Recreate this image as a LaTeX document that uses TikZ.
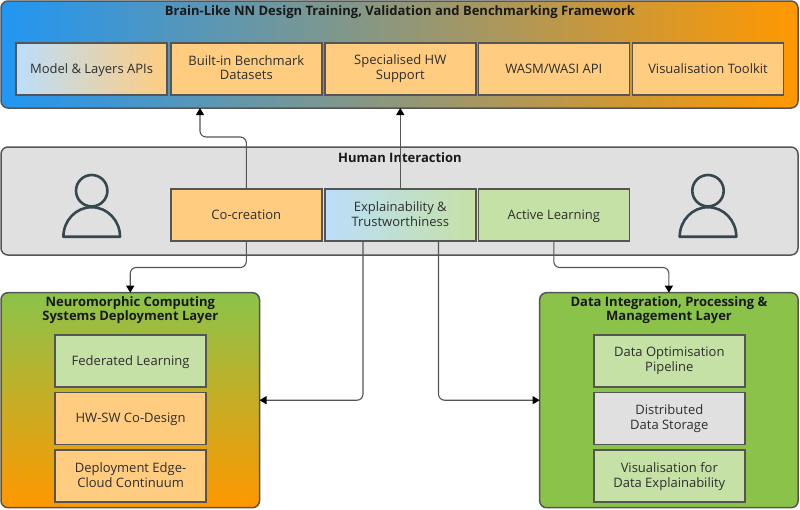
\documentclass[tikz,border=0pt]{standalone}
\usepackage{fontspec}
\setmainfont{Open Sans}
\usetikzlibrary{arrows.meta}
\definecolor{edgegray}{HTML}{555555}
\definecolor{blueS}{HTML}{2196F3}
\definecolor{orangeS}{HTML}{FF9800}
\definecolor{greenS}{HTML}{8BC34A}
\definecolor{grayS}{HTML}{E0E0E0}
\definecolor{lblue}{HTML}{BBDEFB}
\definecolor{lorange}{HTML}{FFCC80}
\definecolor{lgreen}{HTML}{C5E1A5}
\definecolor{ink}{HTML}{37474F}
\definecolor{txt}{HTML}{2E2E2E}
\tikzset{
  x=1pt,y=-1pt,
  layerbox/.style={draw=edgegray,line width=1.5pt,rounded corners=7pt,inner sep=0pt,outer sep=0pt},
  balanced/.style={execute at begin node={\rule{0pt}{#1}},execute at end node={\rule[-3pt]{0pt}{3pt}}},
  balanced/.default=12pt,
  twolines/.style={balanced=15pt},
  card/.style={draw=edgegray,line width=1.5pt,inner sep=0pt,outer sep=0pt,align=center,balanced,
    font=\fontsize{13}{14.8}\selectfont,text=txt},
  hcard/.style={card,minimum width=151pt,minimum height=52pt},
  vcard/.style={card,minimum width=151pt,minimum height=52pt},
  oc/.style={fill=lorange},
  gc/.style={fill=lgreen},
  yc/.style={fill=grayS},
  heading/.style={font=\fontsize{13}{14.5}\selectfont\bfseries,text=black!90,align=center,inner sep=0pt,balanced=13pt},
  conn/.style={draw=edgegray,line width=1.1pt,rounded corners=6pt,-{Triangle[length=7pt,width=8pt,color=black]}},
  person/.style={draw=ink,line width=2.6pt,fill=none},
}
\begin{document}
\begin{tikzpicture}
\useasboundingbox (0,0) rectangle (800,509);
% frames
\node[layerbox,minimum width=797pt,minimum height=107pt,left color=blueS,right color=orangeS] (top) at (399.5,54.5) {};
\node[layerbox,minimum width=797pt,minimum height=108pt,fill=grayS] (human) at (399.5,201) {};
\node[layerbox,minimum width=258.5pt,minimum height=215pt,top color=greenS,bottom color=orangeS] (left) at (130.25,400.2) {};
\node[layerbox,minimum width=258.5pt,minimum height=215pt,fill=greenS] (right) at (668.9,400.2) {};
% headings
\node[heading] (t1) at (400,11) {Brain-Like NN Design Training, Validation and Benchmarking Framework};
\node[heading] (t2) at (400,157) {Human Interaction};
\node[heading,twolines] (t3) at (130.3,310) {Neuromorphic Computing\\Systems Deployment Layer};
\node[heading,twolines] (t4) at (669,310) {Data Integration, Processing \&\\Management Layer};
% top cards
\node[hcard,left color=lblue,right color=lorange] (a1) at (91.5,69) {Model \& Layers APIs};
\node[hcard,oc,twolines] (a2) at (246.3,69) {Built-in Benchmark\\Datasets};
\node[hcard,oc,twolines] (a3) at (400.3,69) {Specialised HW\\Support};
\node[hcard,oc] (a4) at (553.8,69) {WASM/WASI API};
\node[hcard,oc] (a5) at (708,69) {Visualisation Toolkit};
% human cards
\node[hcard,oc] (b1) at (246.3,215.2) {Co-creation};
\node[hcard,left color=lblue,right color=lgreen,twolines] (b2) at (400.3,215.2) {Explainability \&\\Trustworthiness};
\node[hcard,gc] (b3) at (553.8,215.2) {Active Learning};
% left cards
\node[vcard,gc] (c1) at (130.6,360.8) {Federated Learning};
\node[vcard,oc] (c2) at (130.6,418.5) {HW-SW Co-Design};
\node[vcard,oc,twolines] (c3) at (130.6,476.2) {Deployment Edge-\\Cloud Continuum};
% right cards
\node[vcard,gc,twolines] (d1) at (669.3,360.8) {Data Optimisation\\Pipeline};
\node[vcard,yc,twolines] (d2) at (669.3,418.5) {Distributed\\Data Storage};
\node[vcard,gc,twolines] (d3) at (669.3,476.2) {Visualisation for\\Data Explainability};
% persons
\foreach \px in {91.7,708}{
  \draw[person] (\px,190.7) circle[radius=15.7pt];
  \draw[person,line join=round] (\px-28.3,236.7) arc[start angle=180,end angle=0,x radius=28.3pt,y radius=29.5pt] -- cycle;
}
% connector ends
\coordinate (topin) at (200,108);
% connectors
\draw[conn] (b1.north) |- (200,137) -- (topin);
\draw[conn] (b2.north) -- (b2.north |- top.south);
\draw[conn] (b1.south) |- (130.25,267.5) -- (left.north);
\draw[conn] ([xshift=-37.3pt]b2.south) |- (left.east);
\draw[conn] ([xshift=38.2pt]b2.south) |- (right.west);
\draw[conn] (b3.south) |- (668.9,267.5) -- (right.north);
\end{tikzpicture}
\end{document}
